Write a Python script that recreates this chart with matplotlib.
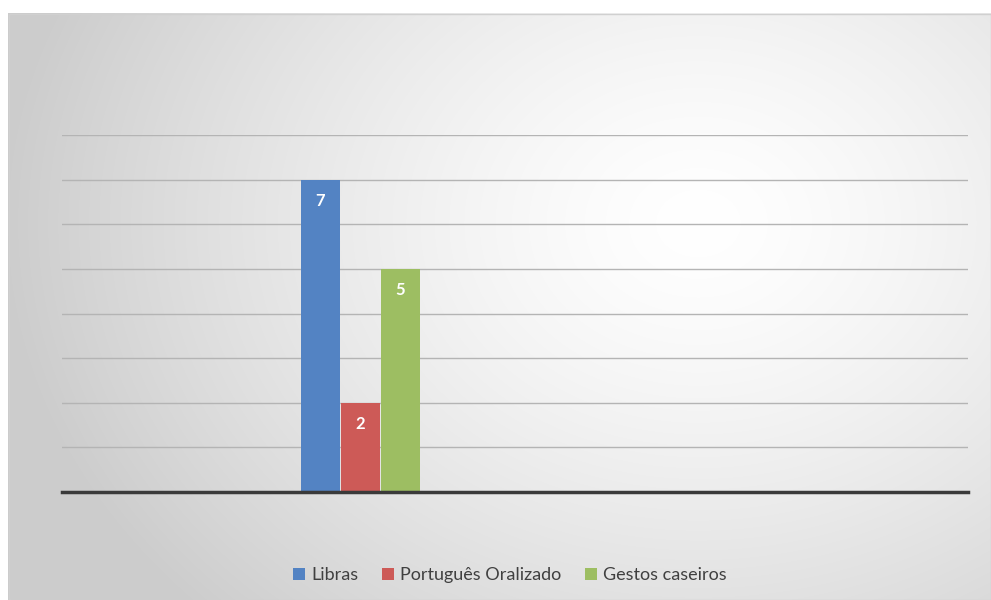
import numpy as np
import matplotlib as mpl
mpl.use('Agg')
import matplotlib.pyplot as plt
from matplotlib.patches import Rectangle

# Data
series = ['Libras', 'Português Oralizado', 'Gestos caseiros']
values = [7, 2, 5]
colors = ['#5383C3', '#CD5A57', '#9DBE62']

W, H = 991, 600
fig = plt.figure(figsize=(W / 100, H / 100), dpi=100)
fig.patch.set_facecolor('white')

# Radial gradient background for the chart area
bg = fig.add_axes([8 / W, 0, 1 - 8 / W, 1 - 13 / H])
yy, xx = np.mgrid[0:587, 0:983]
cx, cy = 690, 210
r = np.sqrt(((xx - cx) / 700.0) ** 2 + ((yy - cy) / 560.0) ** 2)
r = np.clip(r, 0, 1)
shade = 1.0 - 0.2 * r ** 1.4
img = np.dstack([shade, shade, shade])
bg.imshow(img, aspect='auto', interpolation='bilinear')
bg.set_axis_off()
bg.add_patch(Rectangle((0, 0), 982, 586, fill=False, edgecolor='#d0d0d0', lw=1))

# Plot area
x0, x1 = 62, 968
y_base, y_top = 492, 135
ax = fig.add_axes([x0 / W, 1 - y_base / H, (x1 - x0) / W, (y_base - y_top) / H])
ax.patch.set_alpha(0)

bar_w = 1.0
px_per_unit = 40.0
group_center = (360.5 - x0) / px_per_unit
left = -group_center
right = left + (x1 - x0) / px_per_unit
offsets = np.arange(len(series)) - (len(series) - 1) / 2

for off, val, col, name in zip(offsets, values, colors, series):
    ax.bar(off, val, width=bar_w * 0.98, color=col, label=name, zorder=3)
    ax.text(off, val - 0.47, str(val), ha='center', va='center', color='white',
            fontsize=12, fontweight='bold', family='Lato', zorder=4)

ax.set_xlim(left, right)
ax.set_ylim(0, 8)
ax.set_yticks(range(1, 9))
ax.yaxis.grid(True, color='#b4b4b4', lw=1)
ax.set_axisbelow(True)
ax.tick_params(left=False, bottom=False, labelleft=False, labelbottom=False)
for s in ['top', 'right', 'left']:
    ax.spines[s].set_visible(False)
ax.spines['bottom'].set_color('#3a3a3a')
ax.spines['bottom'].set_linewidth(2.5)
ax.spines['bottom'].set_zorder(5)

handles, labels = ax.get_legend_handles_labels()
leg = fig.legend(handles, labels, loc='center', bbox_to_anchor=(510 / W, 1 - 575 / H),
                 ncol=3, frameon=False, handlelength=0.65, handleheight=0.65,
                 handletextpad=0.35, columnspacing=1.3,
                 prop={'family': 'Lato', 'size': 13})
for t in leg.get_texts():
    t.set_color('#404040')

fig.savefig('out.png', dpi=100)
